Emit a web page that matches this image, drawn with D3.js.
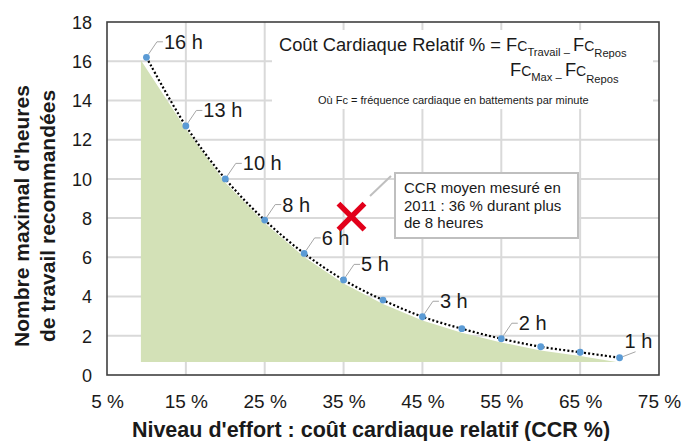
<!DOCTYPE html>
<html><head><meta charset="utf-8">
<script src="https://cdn.jsdelivr.net/npm/d3@7"></script>
<style>
html,body{margin:0;padding:0;background:#fff;}
svg{display:block;font-family:Arial,"Liberation Sans",sans-serif;}
</style></head>
<body>
<svg id="chart" width="682" height="441"></svg>
<script>
// ---- data ----
const ccrValues = [10, 15, 20, 25, 30, 35, 40, 45, 50, 55, 60, 65, 70];
const maxHours  = [16.2, 12.7, 10.0, 7.9, 6.2, 4.85, 3.82, 2.97, 2.36, 1.85, 1.44, 1.16, 0.88];
const pointLabels = ["16 h", "13 h", "10 h", "8 h", "6 h", "5 h", "", "3 h", "", "2 h", "", "", "1 h"];
const zoneX   = [9.3, 15, 20, 25, 30, 35, 40, 45, 50, 55, 60, 65, 69.6];
const zoneTop = [16.05, 12.55, 9.82, 7.75, 6.02, 4.66, 3.62, 2.78, 2.16, 1.66, 1.25, 0.97, 0.66];
const zoneBase = 0.66;
const xTicks = [5, 15, 25, 35, 45, 55, 65, 75];
const yTicks = [0, 2, 4, 6, 8, 10, 12, 14, 16, 18];
const measured = {ccr: 36, hours: 8};
const calloutLines = ["CCR moyen mesuré en", "2011 : 36 % durant plus", "de 8 heures"];
const xTitle = "Niveau d'effort : coût cardiaque relatif (CCR %)";
const yTitleLines = ["Nombre maximal d'heures", "de travail recommandées"];

// ---- layout ----
const svg = d3.select("#chart");
const L = 107, R = 659, T = 22, B = 375;
const x = d3.scaleLinear().domain([5, 75]).range([L, R]);
const y = d3.scaleLinear().domain([0, 18]).range([B, T]);

// grid
const grid = svg.append("g");
grid.selectAll("line.v").data(xTicks.filter(d => d > 5 && d < 75)).join("line")
  .attr("x1", d => x(d)).attr("x2", d => x(d)).attr("y1", T).attr("y2", B)
  .attr("stroke", "#d9d9d9").attr("stroke-width", 2);
grid.selectAll("line.h").data(yTicks.filter(d => d > 0 && d < 18)).join("line")
  .attr("x1", L).attr("x2", R).attr("y1", d => y(d)).attr("y2", d => y(d))
  .attr("stroke", "#d9d9d9").attr("stroke-width", 2);

// formula box (white background)
svg.append("rect").attr("x", 272).attr("y", 30).attr("width", 381).attr("height", 79).attr("fill", "#fff");

// area
const zone = zoneX.map((v, i) => ({x: v, y: zoneTop[i]}));
svg.append("path").datum(zone)
  .attr("d", d3.area().x(d => x(d.x)).y0(y(zoneBase)).y1(d => y(d.y)))
  .attr("fill", "#d3e1b7");

// frame
svg.append("rect").attr("x", L).attr("y", T).attr("width", R - L).attr("height", B - T)
  .attr("fill", "none").attr("stroke", "#404040").attr("stroke-width", 1.6);

// axes
const xAxis = svg.append("g").attr("transform", `translate(0,${B})`)
  .call(d3.axisBottom(x).tickValues(xTicks).tickSize(0).tickPadding(0).tickFormat(d => d + " %"));
xAxis.select(".domain").remove();
xAxis.selectAll("text").attr("y", 33).attr("dy", 0).attr("font-size", 19).attr("fill", "#1a1a1a")
  .attr("font-family", 'Arial,"Liberation Sans",sans-serif');
const yAxis = svg.append("g").attr("transform", `translate(${L},0)`)
  .call(d3.axisLeft(y).tickValues(yTicks).tickSize(0).tickPadding(15));
yAxis.select(".domain").remove();
yAxis.selectAll("text").attr("font-size", 18).attr("dy", "0.35em").attr("fill", "#1a1a1a")
  .attr("font-family", 'Arial,"Liberation Sans",sans-serif');

// titles
svg.append("text").attr("x", 371).attr("y", 436.5).attr("text-anchor", "middle")
  .attr("font-size", 21.5).attr("font-weight", "bold").attr("fill", "#1a1a1a").text(xTitle);
yTitleLines.forEach((t, i) => {
  svg.append("text").attr("transform", `translate(${29 + i * 26},216) rotate(-90)`)
    .attr("text-anchor", "middle").attr("font-size", 21).attr("font-weight", "bold")
    .attr("fill", "#1a1a1a").text(t);
});

// series
const pts = ccrValues.map((v, i) => ({x: v, y: maxHours[i], label: pointLabels[i], i}));
svg.append("path").datum(pts)
  .attr("d", d3.line().x(d => x(d.x)).y(d => y(d.y)).curve(d3.curveCatmullRom))
  .attr("fill", "none").attr("stroke", "#000").attr("stroke-width", 2.2)
  .attr("stroke-dasharray", "2,2.2");

// labels + leaders
const last = pts.length - 1;
pts.filter(d => d.label).forEach(d => {
  const px = x(d.x), py = y(d.y);
  let tx, ty, leader;
  if (d.i === last) {
    tx = px + 5; ty = py - 10;
    leader = [[px + 3, py - 1], [px + 16, py - 6]];
  } else {
    tx = px + 17.5; ty = py - 8.5;
    leader = [[px + 2, py - 3], [tx - 7, ty - 7], [tx - 1, ty - 7]];
  }
  svg.append("path").attr("d", d3.line()(leader)).attr("fill", "none")
    .attr("stroke", "#a6a6a6").attr("stroke-width", 1);
  svg.append("text").attr("x", tx).attr("y", ty).attr("font-size", 20).attr("fill", "#1a1a1a").text(d.label);
});

svg.selectAll("circle.pt").data(pts).join("circle")
  .attr("cx", d => x(d.x)).attr("cy", d => y(d.y)).attr("r", 3.4).attr("fill", "#5b9bd5");

// measured marker
const mx = x(measured.ccr), my = y(measured.hours) - 1.5, ms = 13;
svg.append("path").attr("d", `M${mx - ms},${my - ms}L${mx + ms},${my + ms}M${mx + ms},${my - ms}L${mx - ms},${my + ms}`)
  .attr("stroke", "#e2001a").attr("stroke-width", 5.5);

// callout
svg.append("line").attr("x1", 370).attr("y1", 196).attr("x2", 391).attr("y2", 176)
  .attr("stroke", "#bfbfbf").attr("stroke-width", 2);
svg.append("rect").attr("x", 395).attr("y", 173).attr("width", 183).attr("height", 65)
  .attr("fill", "#fff").attr("stroke", "#bfbfbf").attr("stroke-width", 2);
calloutLines.forEach((t, i) => {
  svg.append("text").attr("x", 404).attr("y", 193.3 + i * 17.5).attr("font-size", 15)
    .attr("fill", "#1a1a1a").text(t);
});

// formula
const big = 18.3, mid = 14, sub = 11.2;
const f1 = svg.append("text").attr("x", 279).attr("y", 51).attr("font-size", big).attr("fill", "#1a1a1a");
f1.append("tspan").text("Coût Cardiaque Relatif % = F");
f1.append("tspan").attr("font-size", mid).text("C");
f1.append("tspan").attr("font-size", sub).attr("dy", 5).text("Travail – ");
f1.append("tspan").attr("dy", -5).text("F");
f1.append("tspan").attr("font-size", mid).text("C");
f1.append("tspan").attr("font-size", sub).attr("dy", 6).text("Repos");
const f2 = svg.append("text").attr("x", 510).attr("y", 76).attr("font-size", big).attr("fill", "#1a1a1a");
f2.append("tspan").text("F");
f2.append("tspan").attr("font-size", mid).text("C");
f2.append("tspan").attr("font-size", sub).attr("dy", 5).text("Max – ");
f2.append("tspan").attr("dy", -5).text("F");
f2.append("tspan").attr("font-size", mid).text("C");
f2.append("tspan").attr("font-size", sub).attr("dy", 7).text("Repos");
svg.append("text").attr("x", 318).attr("y", 104).attr("font-size", 11).attr("fill", "#1a1a1a")
  .text("Où Fc = fréquence cardiaque en battements par minute");
</script>
</body></html>
